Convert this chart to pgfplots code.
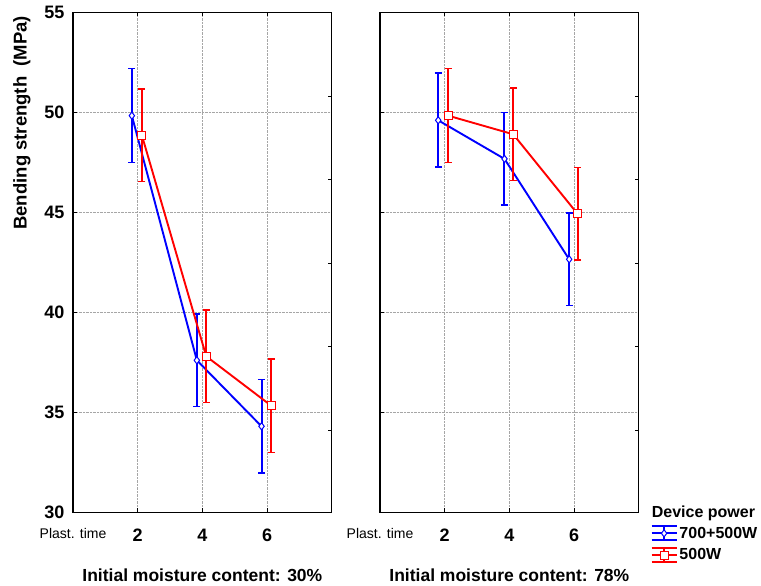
\documentclass[border=0pt]{standalone}
\usepackage{fontspec}
\setmainfont{Liberation Sans}
\usepackage{pgfplots}
\pgfplotsset{compat=1.18}
\definecolor{sblue}{RGB}{0,0,255}
\definecolor{sred}{RGB}{255,0,0}
\pgfplotsset{
  panel/.style={
    scale only axis, width=258.7pt, height=500pt,
    xmin=0, xmax=8, ymin=30, ymax=55,
    xtick={0,2,4,6},
    xticklabels={{\fontsize{14}{16}\selectfont\mdseries Plast. time},2,4,6},
    ytick={30,35,40,45,50,55},
    ytick pos=left,
    grid=major,
    grid style={densely dotted, black!35, line width=0.7pt},
    tick align=inside, major tick length=4pt,
    every tick/.style={black, line width=0.8pt},
    axis line style={line width=1.2pt},
    ticklabel style={font=\fontsize{18}{20}\selectfont\bfseries},
    /pgf/number format/assume math mode=true,
    xticklabel style={yshift=-13pt},
    yticklabel style={xshift=-5pt},
    every axis x label/.style={at={(axis description cs:0.5,0)}, anchor=center, yshift=-62.7pt,
      font=\fontsize{17.5}{20}\selectfont\bfseries},
    clip=false,
  },
  rticks/.style={
    scale only axis, width=258.7pt, height=500pt,
    xmin=0, xmax=8, ymin=30, ymax=55,
    axis x line=none, axis y line*=right,
    ytick={34.1,38.3,42.45,46.65,50.8}, yticklabels={},
    tick align=inside, major tick length=4pt,
    every tick/.style={black, line width=0.8pt},
    axis line style={line width=1.2pt},
  },
  errleg/.style={
    legend image code/.code={
      \draw[##1, line width=1.8pt] (0pt,-7pt) -- (25pt,-7pt);
      \draw[##1, line width=1.8pt] (0pt,7pt) -- (25pt,7pt);
      \draw[##1, line width=1.8pt] (12.5pt,-7pt) -- (12.5pt,7pt);
      \draw[##1, line width=1.8pt] (0pt,0pt) -- (25pt,0pt);
      \draw[##1, line width=1pt] plot coordinates {(12.5pt,0pt)};
    }
  },
  bluep/.style={sblue, line width=1.9pt, mark=diamond*, mark size=3.6pt,
    mark options={fill=white, draw=sblue, line width=1pt, solid},
    error bars/.cd, y dir=both, y explicit,
    error bar style={draw=sblue, line width=2pt, solid},
    error mark options={rotate=90, mark size=3.6pt, line width=1.6pt, draw=sblue}},
  redp/.style={sred, line width=1.9pt, mark=square*, mark size=4pt,
    mark options={fill=white, draw=sred, line width=1pt, solid},
    error bars/.cd, y dir=both, y explicit,
    error bar style={draw=sred, line width=2pt, solid},
    error mark options={rotate=90, mark size=3.6pt, line width=1.6pt, draw=sred}},
}
\begin{document}
\begin{tikzpicture}
\path[use as bounding box] (0pt,0pt) rectangle (761pt,586pt);
% left panel
\begin{axis}[panel, at={(73pt,73.7pt)}, anchor=south west,
  xlabel={Initial moisture content: 30\%},
  ylabel={Bending strength\ \ (MPa)},
  every axis y label/.style={at={(axis description cs:-0.198,0.779)}, rotate=90, anchor=center,
    font=\fontsize{18.5}{20}\selectfont\bfseries}]
\addplot[bluep] coordinates {
  (1.82,49.83) +- (0,2.35)
  (3.83,37.60) +- (0,2.32)
  (5.83,34.30) +- (0,2.33)
};
\addplot[redp] coordinates {
  (2.13,48.85) +- (0,2.31)
  (4.12,37.80) +- (0,2.31)
  (6.13,35.33) +- (0,2.34)
};
\end{axis}
\begin{axis}[rticks, at={(73pt,73.7pt)}, anchor=south west]
\end{axis}
% right panel
\begin{axis}[panel, at={(380pt,73.7pt)}, anchor=south west,
  yticklabels={},
  xlabel={Initial moisture content: 78\%},
  legend style={at={(axis description cs:1.0456,-0.025)}, anchor=north west,
    draw=none, fill=none, font=\fontsize{16}{18}\selectfont\bfseries,
    row sep=5pt, inner sep=0pt},
  legend cell align=left]
\addplot[errleg, bluep] coordinates {
  (1.80,49.60) +- (0,2.35)
  (3.85,47.67) +- (0,2.32)
  (5.85,42.65) +- (0,2.32)
};
\addlegendentry{700+500W}
\addplot[errleg, redp] coordinates {
  (2.11,49.83) +- (0,2.35)
  (4.12,48.90) +- (0,2.31)
  (6.11,44.92) +- (0,2.32)
};
\addlegendentry{500W}
\end{axis}
\begin{axis}[rticks, at={(380pt,73.7pt)}, anchor=south west]
\end{axis}
\node[anchor=west, inner sep=0pt, font=\fontsize{16}{18}\selectfont\bfseries] at (651.7pt,73pt) {Device power};
\end{tikzpicture}
\end{document}
